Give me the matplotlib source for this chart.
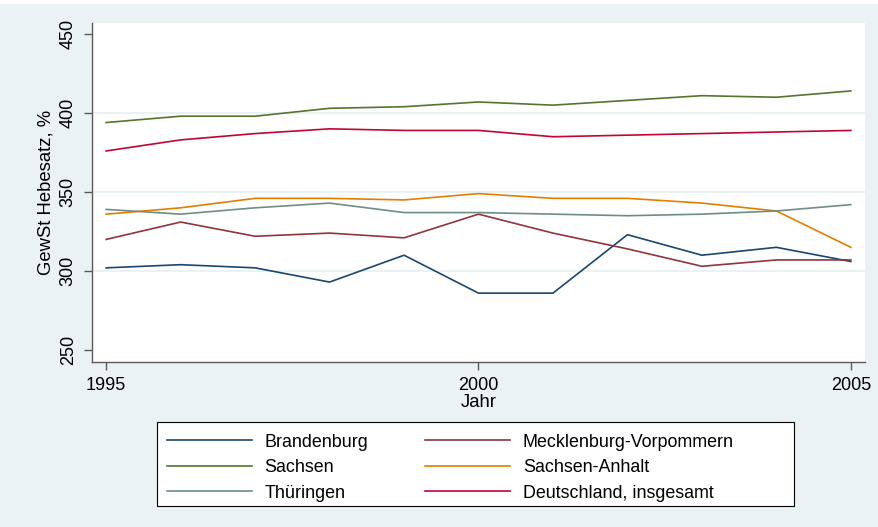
import matplotlib
matplotlib.use("Agg")
import matplotlib.pyplot as plt
from matplotlib.patches import Rectangle

plt.rcParams["font.family"] = ["Liberation Sans", "DejaVu Sans"]

BG = "#eaf2f3"

years = list(range(1995, 2006))
brandenburg = [302, 304, 302, 293, 310, 286, 286, 323, 310, 315, 306]
mecklenburg = [320, 331, 322, 324, 321, 336, 324, 314, 303, 307, 307]
sachsen = [394, 398, 398, 403, 404, 407, 405, 408, 411, 410, 414]
sachsen_anhalt = [336, 340, 346, 346, 345, 349, 346, 346, 343, 338, 315]
thueringen = [339, 336, 340, 343, 337, 337, 336, 335, 336, 338, 342]
deutschland = [376, 383, 387, 390, 389, 389, 385, 386, 387, 388, 389]

series = [
    ("Brandenburg", brandenburg, "#1a476f"),
    ("Mecklenburg-Vorpommern", mecklenburg, "#90353b"),
    ("Sachsen", sachsen, "#55752f"),
    ("Sachsen-Anhalt", sachsen_anhalt, "#e37e00"),
    ("Thüringen", thueringen, "#6e8e84"),
    ("Deutschland, insgesamt", deutschland, "#c10534"),
]

fig = plt.figure(figsize=(8.79, 5.27), dpi=100, facecolor=BG)
# thin white strip along the top edge
fig.patches.append(Rectangle((0, 1 - 4 / 527), 1, 4 / 527, transform=fig.transFigure,
                             facecolor="white", edgecolor="none", zorder=0))

ax = fig.add_axes([92 / 879, 1 - 362 / 527, (865 - 92) / 879, (362 - 23) / 527])
ax.set_facecolor("white")

handles = {}
for name, vals, color in series:
    (h,) = ax.plot(years, vals, color=color, lw=1.2, label=name)
    handles[name] = h

ax.set_xlim(1994.81, 2005.19)
ax.set_ylim(242.4, 457)
ax.set_xticks([1995, 2000, 2005])
ax.set_yticks([250, 300, 350, 400, 450])
for y in [300, 350, 400]:
    ax.axhline(y, color=BG, lw=1.5, zorder=0)

for s in ["top", "right"]:
    ax.spines[s].set_visible(False)
for s in ["left", "bottom"]:
    ax.spines[s].set_color("#5a5a5a")
    ax.spines[s].set_linewidth(1.0)
ax.tick_params(axis="both", length=6, width=1.0, color="#5a5a5a", labelsize=13, pad=5)
for lbl in ax.get_yticklabels():
    lbl.set_rotation(90)
    lbl.set_va("center")

ax.set_xlabel("Jahr", fontsize=13.3, labelpad=0)
ax.set_ylabel("GewSt Hebesatz, %", fontsize=13.3, labelpad=4)

# legend frame drawn separately so it can be wider than its content
fig.patches.append(Rectangle((157 / 879, 1 - 506 / 527), (794 - 157) / 879, (506 - 421.7) / 527,
                             transform=fig.transFigure, facecolor="white",
                             edgecolor="black", lw=0.8, zorder=1))
order = ["Brandenburg", "Sachsen", "Thüringen",
         "Mecklenburg-Vorpommern", "Sachsen-Anhalt", "Deutschland, insgesamt"]
fig.legend([handles[n] for n in order], order, ncol=2, frameon=False,
           loc="upper left", bbox_to_anchor=(154 / 879, 1 - 421 / 527),
           fontsize=12.9, handlelength=4.75, handletextpad=0.72,
           columnspacing=3.15, labelspacing=0.48, borderpad=0.2)

fig.savefig("out.png", dpi=100, facecolor=BG)
